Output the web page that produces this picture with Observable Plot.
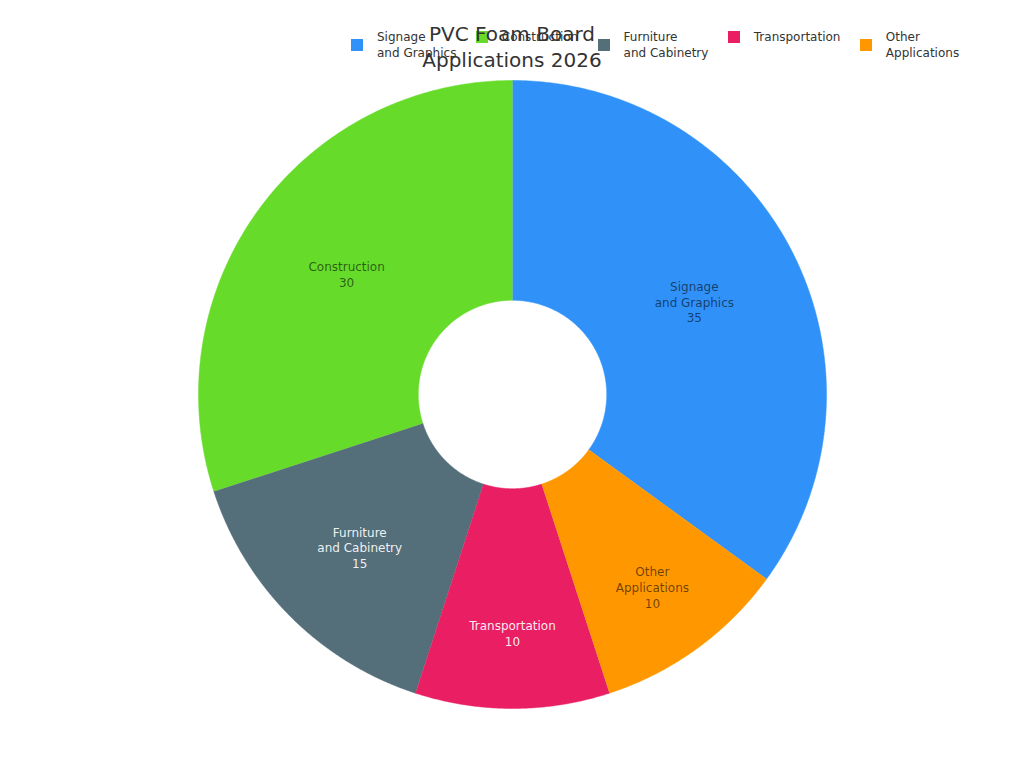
<!DOCTYPE html>
<html><head><meta charset="utf-8">
<script src="https://cdn.jsdelivr.net/npm/d3@7"></script>
<script src="https://cdn.jsdelivr.net/npm/@observablehq/plot@0.6"></script>
<style>
body{margin:0;background:#fff;font-family:"DejaVu Sans",sans-serif;}
#wrap{position:relative;width:1024px;height:768px;overflow:hidden;}
#chart{position:absolute;left:0;top:0;}
#title{position:absolute;left:0;width:1024px;top:21px;text-align:center;font-size:20px;line-height:26px;color:#333;}
#legend{position:absolute;left:351px;top:29px;display:flex;align-items:flex-start;gap:19.4px;font-size:12px;line-height:16px;color:#333;}
.item{display:flex;align-items:center;}
.sw{width:12px;height:12px;margin-right:14px;flex:none;}
</style></head><body>
<div id="wrap"><div id="chart"></div><div id="legend"></div><div id="title">PVC Foam Board<br>Applications 2026</div></div>
<script>
// Data (legend order)
const categories = ["Signage\nand Graphics", "Construction", "Furniture\nand Cabinetry", "Transportation", "Other\nApplications"];
const values = [35, 30, 15, 10, 10];
// Styles
const colors = ["#3092f8", "#66db2a", "#546e7a", "#e91e63", "#ff9800"];
const labelOnDark = [false, false, true, true, false];
const labelRadius = [0.65, 0.653, 0.688, 0.76, 0.758];

const startAngle = 126 * Math.PI / 180;
const pie = d3.pie().sort(null).startAngle(startAngle).endAngle(startAngle - 2 * Math.PI);
const arcs = pie(values);
const R0 = 0.3, R1 = 1;
const pts = [];
const labels = [];
arcs.forEach((a, i) => {
  const cat = categories[i];
  const n = 200;
  for (let k = 0; k <= n; k++) {
    const t = a.startAngle + (a.endAngle - a.startAngle) * k / n;
    pts.push({cat, x: R1 * Math.sin(t), y: R1 * Math.cos(t)});
  }
  for (let k = n; k >= 0; k--) {
    const t = a.startAngle + (a.endAngle - a.startAngle) * k / n;
    pts.push({cat, x: R0 * Math.sin(t), y: R0 * Math.cos(t)});
  }
  const m = (a.startAngle + a.endAngle) / 2, rm = labelRadius[i];
  labels.push({cat, text: cat + "\n" + values[i], x: rm * Math.sin(m), y: rm * Math.cos(m), dark: labelOnDark[i]});
});

const chart = Plot.plot({
  width: 1024, height: 768,
  marginLeft: 198, marginRight: 198, marginTop: 80, marginBottom: 60,
  x: {axis: null, domain: [-1, 1]},
  y: {axis: null, domain: [-1, 1]},
  color: {domain: categories, range: colors},
  style: {fontFamily: "DejaVu Sans, sans-serif", background: "transparent"},
  marks: [
    Plot.line(pts, {x: "x", y: "y", z: "cat", fill: "cat", stroke: "cat", strokeWidth: 0.5, curve: "linear"}),
    Plot.text(labels.filter(d => !d.dark), {x: "x", y: "y", text: "text", fill: "black", fillOpacity: 0.58, fontSize: 12, lineHeight: 1.3}),
    Plot.text(labels.filter(d => d.dark), {x: "x", y: "y", text: "text", fill: "white", fillOpacity: 0.92, fontSize: 12, lineHeight: 1.3})
  ]
});
document.getElementById("chart").appendChild(chart);

const legend = document.getElementById("legend");
categories.forEach((c, i) => {
  const it = document.createElement("div");
  it.className = "item";
  const sw = document.createElement("div");
  sw.className = "sw";
  sw.style.background = colors[i];
  const tx = document.createElement("div");
  tx.innerHTML = c.split("\n").join("<br>");
  it.appendChild(sw); it.appendChild(tx);
  legend.appendChild(it);
});
</script>
</body></html>
